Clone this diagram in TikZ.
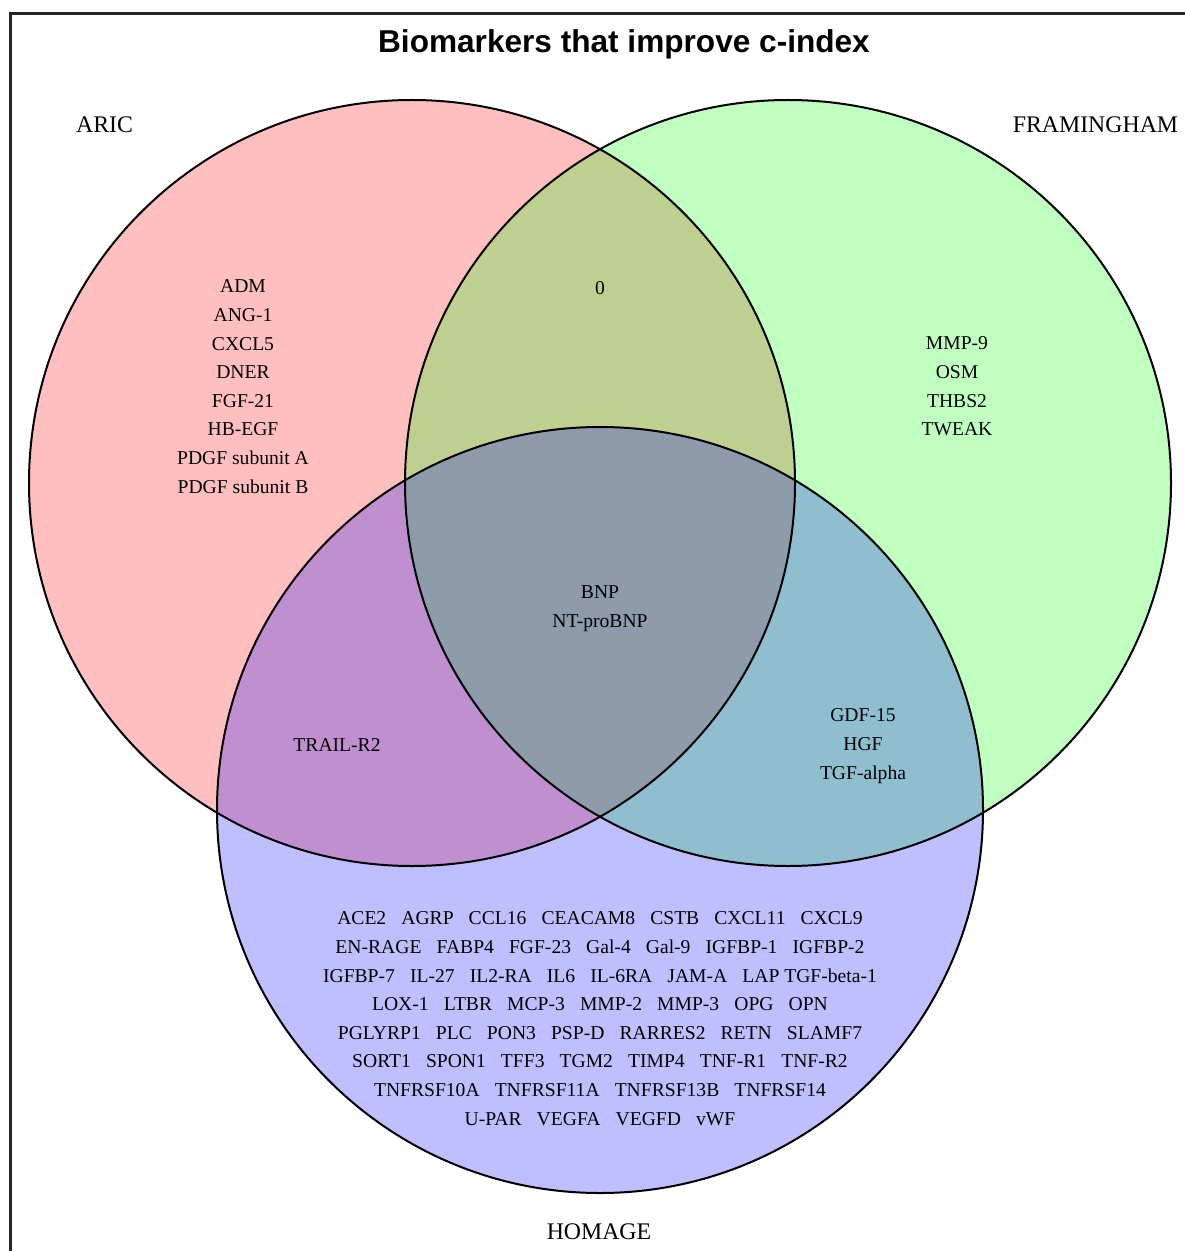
\documentclass[tikz,border=0pt]{standalone}
\usepackage{fontspec}
\setmainfont{Liberation Serif}
\newfontfamily\titlefont{Liberation Sans}
\usetikzlibrary{positioning}

\tikzset{
  set/.style={circle, minimum size=383pt, inner sep=0pt, fill opacity=0.25},
  rim/.style={draw=black, line width=1pt},
  setname/.style={font=\fontsize{11.9}{14}\selectfont, inner sep=0pt, anchor=base},
  items/.style={font=\fontsize{9.8}{14.3}\selectfont, align=center, inner sep=0pt, anchor=north},
}
\newcommand\wsep{\hspace{0.77em}}

\begin{document}
\begin{tikzpicture}[x=0.5pt, y=-0.5pt]
  \useasboundingbox (0,0) rectangle (1184,1251);
  \draw[line width=1.5pt, black!85] (10.5,13.5) rectangle (1300,1320);

  % the three sets
  \node[set, fill=red] (aric) at (412,483) {};
  \node[set, fill=green] (fram) at (788,483) {};
  \node[set, fill=blue] (homage) at (600,810) {};
  \foreach \s in {aric,fram,homage}
    \draw[rim] (\s.center) circle (191.5pt);

  \node[font=\titlefont\bfseries\fontsize{15.8}{18}\selectfont, inner sep=0pt, anchor=base] (title) at (624,53) {Biomarkers that improve c-index};

  % set names
  \node[setname] (aricname) at (104.5,133) {ARIC};
  \node[setname] (framname) at (1095.5,133) {FRAMINGHAM};
  \node[setname] (homagename) at (599,1239) {HOMAGE};

  % regions
  \node[items] (aonly) at (243,279.5) {ADM\\ANG-1\\CXCL5\\DNER\\FGF-21\\HB-EGF\\PDGF subunit A\\PDGF subunit B};
  \node[items, anchor=base] (af) at (600,295) {0};
  \node[items] (fonly) at (957,336.5) {MMP-9\\OSM\\THBS2\\TWEAK};
  \node[items] (afh) at (600,585.5) {BNP\\NT-proBNP};
  \node[items, anchor=base] (ah) at (337,751) {TRAIL-R2};
  \node[items] (fh) at (863,708.5) {GDF-15\\HGF\\TGF-alpha};
  \node[items] (honly) at (600,911.5) {%
    ACE2\wsep AGRP\wsep CCL16\wsep CEACAM8\wsep CSTB\wsep CXCL11\wsep CXCL9\\
    EN-RAGE\wsep FABP4\wsep FGF-23\wsep Gal-4\wsep Gal-9\wsep IGFBP-1\wsep IGFBP-2\\
    IGFBP-7\wsep IL-27\wsep IL2-RA\wsep IL6\wsep IL-6RA\wsep JAM-A\wsep LAP TGF-beta-1\\
    LOX-1\wsep LTBR\wsep MCP-3\wsep MMP-2\wsep MMP-3\wsep OPG\wsep OPN\\
    PGLYRP1\wsep PLC\wsep PON3\wsep PSP-D\wsep RARRES2\wsep RETN\wsep SLAMF7\\
    SORT1\wsep SPON1\wsep TFF3\wsep TGM2\wsep TIMP4\wsep TNF-R1\wsep TNF-R2\\
    TNFRSF10A\wsep TNFRSF11A\wsep TNFRSF13B\wsep TNFRSF14\\
    U-PAR\wsep VEGFA\wsep VEGFD\wsep vWF};
\end{tikzpicture}
\end{document}
